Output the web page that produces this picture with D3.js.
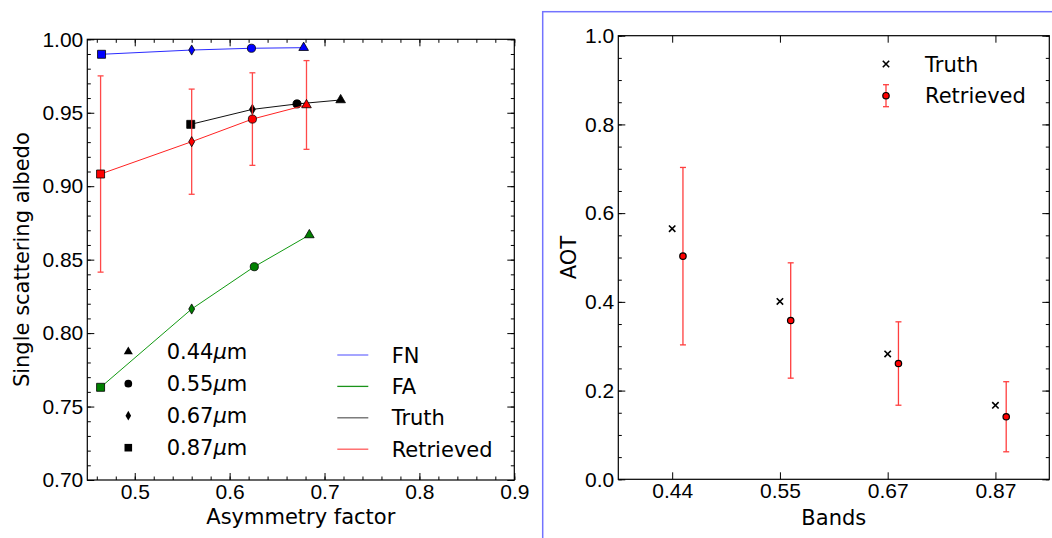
<!DOCTYPE html>
<html>
<head>
<meta charset="utf-8">
<script src="https://cdn.jsdelivr.net/npm/d3@7"></script>
<style>
  body { margin: 0; background: #fff; }
  svg { display: block; font-family: "DejaVu Sans", sans-serif; }
  .tick text { font-size: 21px; fill: #000; }
  .domain { display: none; }
</style>
</head>
<body>
<svg id="chart" width="1052" height="538"></svg>
<script>
// bands, in the order the markers are listed in the legend
const bands = ["0.44", "0.55", "0.67", "0.87"]

// left panel: asymmetry factor g and single scattering albedo w, one value per band
const fnG = [0.678, 0.623, 0.560, 0.465]
const fnW = [0.9943, 0.9939, 0.9927, 0.9898]
const faG = [0.684, 0.626, 0.560, 0.464]
const faW = [0.8668, 0.8452, 0.8164, 0.7631]
const truthG = [0.717, 0.671, 0.624, 0.559]
const truthW = [0.9587, 0.9560, 0.9523, 0.9421]
const retG = [0.681, 0.624, 0.560, 0.464]
const retW = [0.9553, 0.9457, 0.9303, 0.9083]
const retWErr = [0.0302, 0.0315, 0.0358, 0.0668]

// right panel: aerosol optical thickness per band
const truthAOT = [0.565, 0.401, 0.2825, 0.1668]
const retAOT = [0.503, 0.358, 0.261, 0.141]
const retAOTErr = [0.200, 0.130, 0.094, 0.079]

const xTicksL = [0.5, 0.6, 0.7, 0.8, 0.9]
const yTicksL = [0.70, 0.75, 0.80, 0.85, 0.90, 0.95, 1.00]
const yTicksR = [0.0, 0.2, 0.4, 0.6, 0.8, 1.0]

const FS = 21
const svg = d3.select("#chart")

const symbols = [d3.symbolTriangle, d3.symbolCircle, d3.symbolDiamond, d3.symbolSquare]
const symSizes = [40, 52, 30, 64]
const sym = (i, k = 1) => d3.symbol().type(symbols[i]).size(symSizes[i] * k)()

// draws ticks inward on all four sides, matplotlib "classic" look
function frame(g, x, y, xMajor, xMinor, yMajor, yMinor, xFmt, yFmt) {
  const [x0, x1] = x.range()
  const [y0, y1] = y.range()
  g.append("g").attr("transform", `translate(0,${y0})`)
    .call(d3.axisBottom(x).tickValues(xMinor).tickSize(-3.5).tickFormat(""))
  g.append("g").attr("transform", `translate(0,${y0})`)
    .call(d3.axisBottom(x).tickValues(xMajor).tickSize(-7).tickPadding(4).tickFormat(xFmt))
  g.append("g").attr("transform", `translate(0,${y1})`)
    .call(d3.axisTop(x).tickValues(xMinor).tickSize(-3.5).tickFormat(""))
  g.append("g").attr("transform", `translate(0,${y1})`)
    .call(d3.axisTop(x).tickValues(xMajor).tickSize(-7).tickFormat(""))
  g.append("g").attr("transform", `translate(${x0},0)`)
    .call(d3.axisLeft(y).tickValues(yMinor).tickSize(-3.5).tickFormat(""))
  g.append("g").attr("transform", `translate(${x0},0)`)
    .call(d3.axisLeft(y).tickValues(yMajor).tickSize(-7).tickPadding(4).tickFormat(yFmt))
  g.append("g").attr("transform", `translate(${x1},0)`)
    .call(d3.axisRight(y).tickValues(yMinor).tickSize(-3.5).tickFormat(""))
  g.append("g").attr("transform", `translate(${x1},0)`)
    .call(d3.axisRight(y).tickValues(yMajor).tickSize(-7).tickFormat(""))
  g.selectAll(".tick line").attr("stroke", "#000")
  g.append("rect")
    .attr("x", x0).attr("y", y1).attr("width", x1 - x0).attr("height", y0 - y1)
    .attr("fill", "none").attr("stroke", "#000").attr("stroke-width", 1.2)
}

// ---------- left panel ----------
const xL = d3.scaleLinear().domain([0.45, 0.9]).range([87.3, 514.3])
const yL = d3.scaleLinear().domain([0.7, 1.0]).range([480, 39.3])
const gl = svg.append("g")

const range = (a, b, s) => d3.range(Math.round(a / s), Math.round(b / s) + 1).map((v) => +(v * s).toFixed(4))
frame(gl, xL, yL, xTicksL, range(0.46, 0.9, 0.02), yTicksL, range(0.70, 1.0, 0.01),
  d3.format(".1f"), d3.format(".2f"))

const series = [
  { g: fnG, w: fnW, color: "#0000ff", line: "#2b2bff" },
  { g: faG, w: faW, color: "#008000", line: "#119911" },
  { g: truthG, w: truthW, color: "#000000", line: "#111111" },
  { g: retG, w: retW, color: "#ff0000", line: "#ff2222", err: retWErr }
]

const lineL = d3.line().x((d) => xL(d[0])).y((d) => yL(d[1]))
series.forEach((s) => {
  const pts = s.g.map((g, i) => [g, s.w[i], i])
  gl.append("path").attr("d", lineL(pts)).attr("fill", "none")
    .attr("stroke", s.line).attr("stroke-width", 1)
  if (s.err) {
    pts.forEach((p, i) => {
      const px = xL(p[0]), top = yL(p[1] + s.err[i]), bot = yL(p[1] - s.err[i])
      const eb = gl.append("g").attr("stroke", "#ff2a2a").attr("stroke-width", 1.3).attr("opacity", 0.85)
      eb.append("line").attr("x1", px).attr("x2", px).attr("y1", top).attr("y2", bot)
      eb.append("line").attr("x1", px - 3).attr("x2", px + 3).attr("y1", top).attr("y2", top)
      eb.append("line").attr("x1", px - 3).attr("x2", px + 3).attr("y1", bot).attr("y2", bot)
    })
  }
  pts.forEach((p) => {
    gl.append("path").attr("d", sym(p[2]))
      .attr("transform", `translate(${xL(p[0])},${yL(p[1])})`)
      .attr("fill", s.color).attr("stroke", "#000").attr("stroke-width", 0.8)
  })
})

// marker legend
bands.forEach((b, i) => {
  const cy = 351.7 + i * 32
  gl.append("path").attr("d", sym(i, 0.9))
    .attr("transform", `translate(128.3,${cy})`).attr("fill", "#000")
  const t = gl.append("text").attr("x", 166.7).attr("y", cy).attr("dy", "0.36em")
    .attr("font-size", FS)
  t.append("tspan").text(b)
  t.append("tspan").attr("font-style", "italic").text("μ")
  t.append("tspan").text("m")
})

// line legend
const lineLegend = [
  { name: "FN", color: "#7575ff" },
  { name: "FA", color: "#1a931a" },
  { name: "Truth", color: "#666666" },
  { name: "Retrieved", color: "#ff5a5a" }
]
lineLegend.forEach((d, i) => {
  const cy = 355 + i * 31.4
  gl.append("line").attr("x1", 337.3).attr("x2", 368.3).attr("y1", cy).attr("y2", cy)
    .attr("stroke", d.color).attr("stroke-width", 1.3)
  gl.append("text").attr("x", 391.7).attr("y", cy).attr("dy", "0.36em")
    .attr("font-size", FS).text(d.name)
})

gl.append("text").attr("x", (87.3 + 514.3) / 2).attr("y", 523.5)
  .attr("text-anchor", "middle").attr("font-size", FS).text("Asymmetry factor")
gl.append("text").attr("transform", `translate(29,${(39.3 + 480) / 2}) rotate(-90)`)
  .attr("text-anchor", "middle").attr("font-size", FS).text("Single scattering albedo")

// ---------- right panel ----------
svg.append("rect").attr("x", 542.7).attr("y", 11.7).attr("width", 600).attr("height", 600)
  .attr("fill", "none").attr("stroke", "#7373ff").attr("stroke-width", 1.5)

const xR = d3.scaleLinear().domain([-0.5, 3.5]).range([618.3, 1049.3])
const yR = d3.scaleLinear().domain([0, 1]).range([479.3, 35.7])
const gr = svg.append("g")
frame(gr, xR, yR, [0, 1, 2, 3], [], yTicksR, range(0, 1, 0.05), (i) => bands[i], d3.format(".1f"))

function cross(g, cx, cy) {
  const r = 3.2
  g.append("path").attr("d", `M${cx - r},${cy - r}L${cx + r},${cy + r}M${cx - r},${cy + r}L${cx + r},${cy - r}`)
    .attr("stroke", "#000").attr("stroke-width", 1.6)
}
function errDot(g, cx, cy, top, bot) {
  const eb = g.append("g").attr("stroke", "#ff2a2a").attr("stroke-width", 1.3).attr("opacity", 0.9)
  eb.append("line").attr("x1", cx).attr("x2", cx).attr("y1", top).attr("y2", bot)
  eb.append("line").attr("x1", cx - 3).attr("x2", cx + 3).attr("y1", top).attr("y2", top)
  eb.append("line").attr("x1", cx - 3).attr("x2", cx + 3).attr("y1", bot).attr("y2", bot)
  g.append("circle").attr("cx", cx).attr("cy", cy).attr("r", 3.2)
    .attr("fill", "#ff0000").attr("stroke", "#000").attr("stroke-width", 1.2)
}

bands.forEach((b, i) => {
  cross(gr, xR(i), yR(truthAOT[i]))
  errDot(gr, xR(i + 0.1), yR(retAOT[i]), yR(retAOT[i] + retAOTErr[i]), yR(retAOT[i] - retAOTErr[i]))
})

cross(gr, 886, 64)
gr.append("text").attr("x", 925).attr("y", 64).attr("dy", "0.36em").attr("font-size", FS).text("Truth")
errDot(gr, 886, 95.7, 84.7, 106.7)
gr.append("text").attr("x", 925).attr("y", 95.7).attr("dy", "0.36em").attr("font-size", FS).text("Retrieved")

gr.append("text").attr("x", (618.3 + 1049.3) / 2).attr("y", 524.5)
  .attr("text-anchor", "middle").attr("font-size", FS).text("Bands")
gr.append("text").attr("transform", `translate(576,${(35.7 + 479.3) / 2}) rotate(-90)`)
  .attr("text-anchor", "middle").attr("font-size", FS).text("AOT")
</script>
</body>
</html>
